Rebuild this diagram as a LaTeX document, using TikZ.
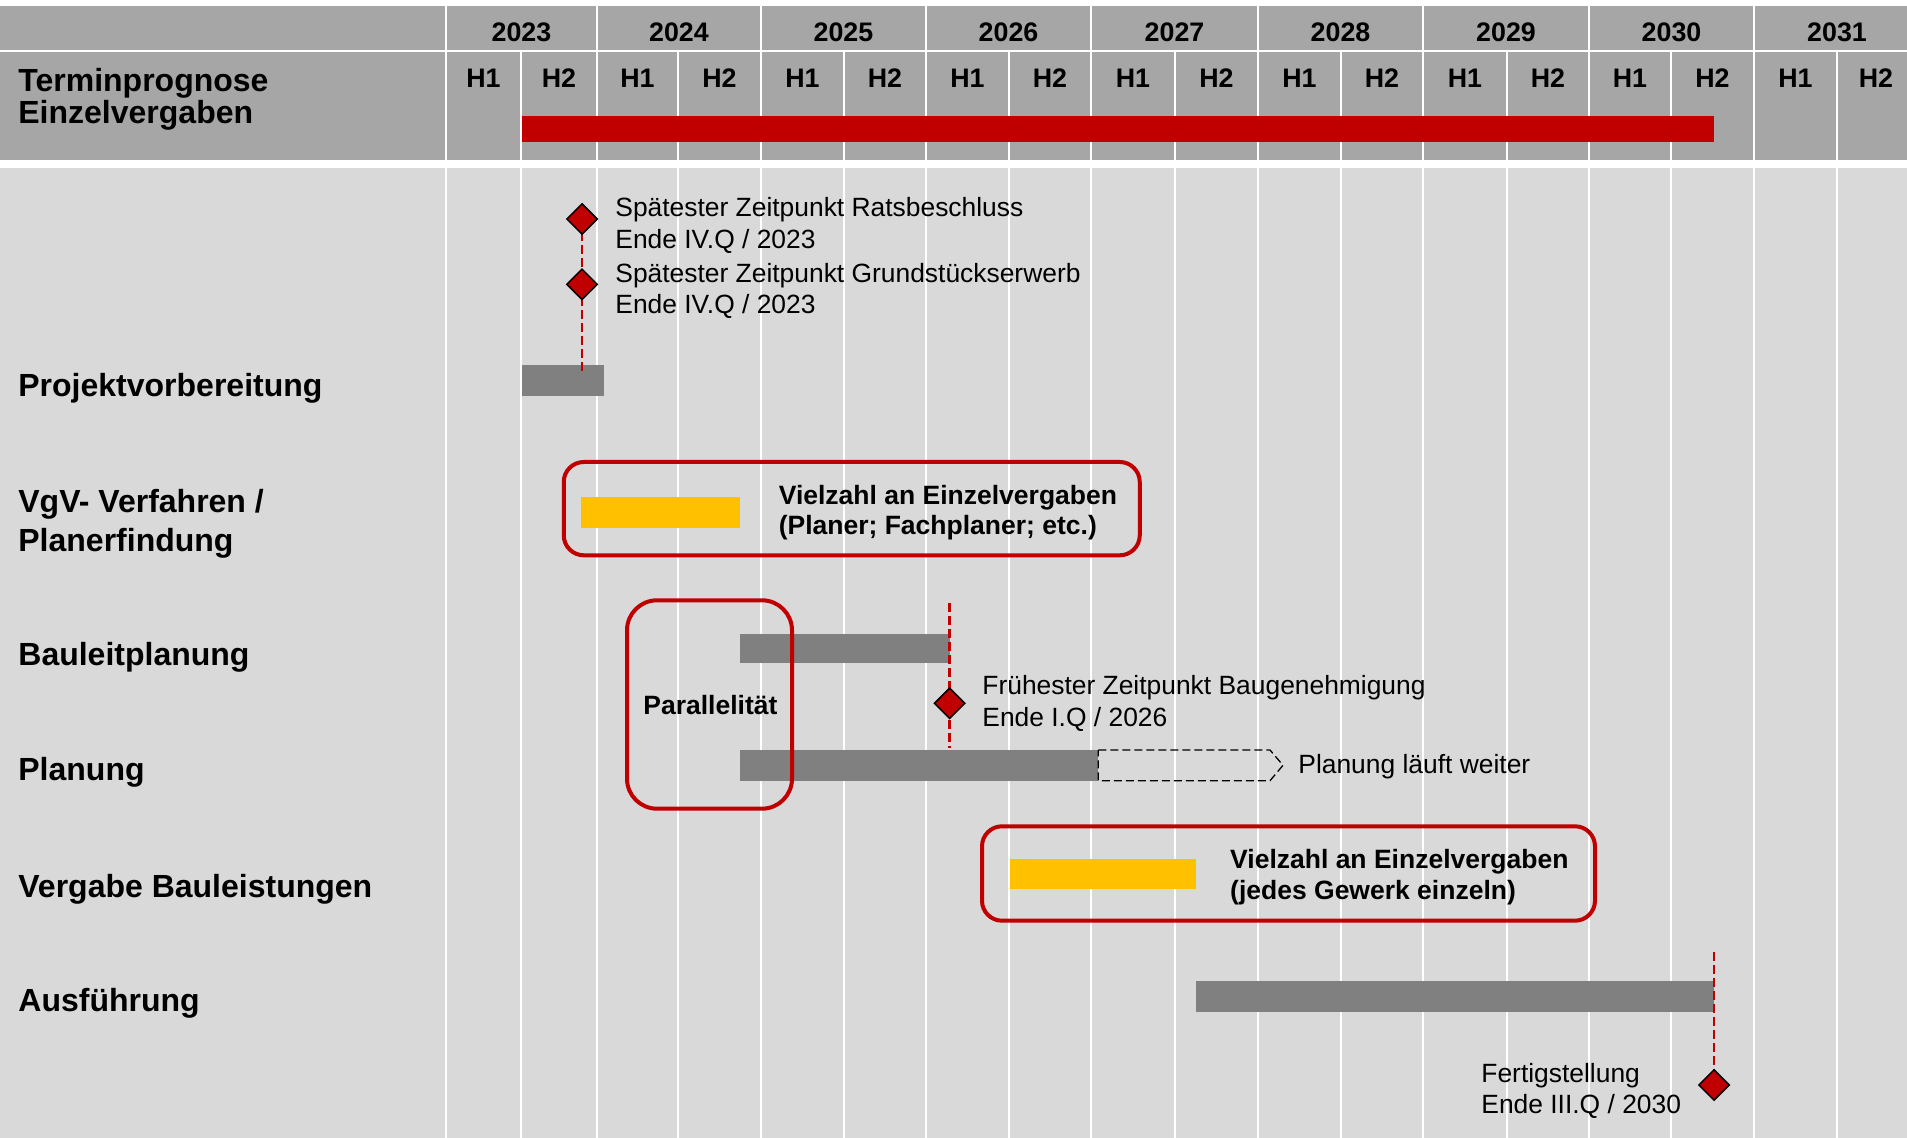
\documentclass[tikz,border=0pt]{standalone}
\usepackage{fontspec}
\setmainfont{Liberation Sans}
\usetikzlibrary{shapes.geometric}
\definecolor{hdrgray}{HTML}{A6A6A6}
\definecolor{bodygray}{HTML}{D9D9D9}
\definecolor{bargray}{HTML}{808080}
\definecolor{darkred}{HTML}{C00000}
\definecolor{amber}{HTML}{FFC000}
\begin{document}
\begin{tikzpicture}[x=0.5pt,y=-0.5pt,
  gridline/.style={white,line width=1.4pt},
  lbl/.style={inner sep=0pt,anchor=base west,font=\fontsize{16}{19}\selectfont\bfseries},
  hdr/.style={inner sep=0pt,anchor=base,font=\fontsize{13.4}{16}\selectfont\bfseries},
  note/.style={inner sep=0pt,anchor=base west,font=\fontsize{13.2}{16}\selectfont},
  boxtxt/.style={inner sep=0pt,anchor=base west,font=\fontsize{13.25}{16}\selectfont\bfseries},
  milestone/.style={diamond,draw=black,fill=darkred,line width=0.75pt,minimum width=15.5pt,minimum height=15.5pt,inner sep=0pt},
  msline/.style={darkred,line width=1.2pt,dash pattern=on 4.5pt off 2pt},
  extdash/.style={black,line width=0.65pt,dash pattern=on 4pt off 2pt},
  redbox/.style={draw=darkred,line width=2pt,inner sep=0pt},
  gbar/.style={fill=bargray},
  ybar/.style={fill=amber}]
\useasboundingbox (0,0) rectangle (1907,1138);
% background and grid
\fill[white] (0,0) rectangle (1907,1138);
\fill[hdrgray] (0,6) rectangle (1907,50);
\fill[hdrgray] (0,52) rectangle (1907,160);
\fill[bodygray] (0,168) rectangle (1907,1138);
\foreach \x in {446,597,761,926,1091,1258,1423,1589,1754}
  \draw[gridline] (\x,6) -- (\x,50);
\foreach \x in {446,521,597,678,761,844,926,1009,1091,1175,1258,1341,1423,1507,1589,1671,1754,1837}{
  \draw[gridline] (\x,52) -- (\x,160);
  \draw[gridline] (\x,168) -- (\x,1138);
}
% header texts
\node[lbl] (tp1) at (18,92) {Terminprognose};
\node[lbl] (tp2) at (18,124) {Einzelvergaben};
\foreach \cx/\yr in {521.5/2023,679/2024,843.5/2025,1008.5/2026,1174.5/2027,1340.5/2028,1506/2029,1671.5/2030,1837/2031}
  \node[hdr] (y\yr) at (\cx,41.5) {\yr};
\foreach \cx/\h [count=\i] in {483.5/H1,559/H2,637.5/H1,719.5/H2,802.5/H1,885/H2,967.5/H1,1050/H2,1133/H1,1216.5/H2,1299.5/H1,1382/H2,1465/H1,1548/H2,1630/H1,1712.5/H2,1795.5/H1,1876/H2}
  \node[hdr] (h\i) at (\cx,88) {\h};
\fill[darkred] (522,116) rectangle (1714,142);
% row labels
\node[lbl] (r1) at (18,397) {Projektvorbereitung};
\node[lbl] (r2a) at (18,513) {VgV- Verfahren /};
\node[lbl] (r2b) at (18,552) {Planerfindung};
\node[lbl] (r3) at (18,666) {Bauleitplanung};
\node[lbl] (r4) at (18,781) {Planung};
\node[lbl] (r5) at (18,897) {Vergabe Bauleistungen};
\node[lbl] (r6) at (18,1011) {Ausführung};
% bars
\fill[gbar] (522,365) rectangle (604,396);
\fill[ybar] (581,497.3) rectangle (740,527.7);
\fill[gbar] (740,634) rectangle (949.6,663.3);
\fill[gbar] (740,750) rectangle (1098.3,780.7);
\draw[extdash] (1098.3,750) -- (1270,750) -- (1283,765.3) -- (1270,780.7) -- (1098.3,780.7) -- cycle;
\fill[ybar] (1010,859) rectangle (1195.8,888.7);
\fill[gbar] (1195.5,981) rectangle (1714,1011.7);
% boxes
\node[redbox,rounded corners=10pt,minimum width=288pt,minimum height=46.65pt] (vgvbox) at (851.75,508.65) {};
\node[redbox,rounded corners=15pt,minimum width=82.5pt,minimum height=104.2pt] (parbox) at (709.5,704.5) {};
\node[redbox,rounded corners=10pt,minimum width=306.5pt,minimum height=47.2pt] (vgbbox) at (1288.5,873.5) {};
% milestone connectors
\coordinate (m1) at (582,219);
\coordinate (m2) at (582,284.3);
\coordinate (m1end) at (582,372);
\coordinate (m3) at (949.6,703.3);
\coordinate (m3top) at (949.6,603);
\coordinate (m3end) at (949.6,748);
\coordinate (m4) at (1714,1085);
\coordinate (m4top) at (1714,951.7);
\draw[msline] (m1) -- (m1end);
\draw[msline] (m3top) -- (m3end);
\draw[msline] (m4top) -- (m4);
\node[milestone] (ms1) at (m1) {};
\node[milestone] (ms2) at (m2) {};
\node[milestone] (ms3) at (m3) {};
\node[milestone] (ms4) at (m4) {};
% texts
\node[note] (t1a) at (615,216.7) {Spätester Zeitpunkt Ratsbeschluss};
\node[note] (t1b) at (615,248.3) {Ende IV.Q / 2023};
\node[note] (t2a) at (615,282.3) {Spätester Zeitpunkt Grundstückserwerb};
\node[note] (t2b) at (615,314) {Ende IV.Q / 2023};
\node[boxtxt] (v1a) at (778.4,505) {Vielzahl an Einzelvergaben};
\node[boxtxt] (v1b) at (778.4,535) {(Planer; Fachplaner; etc.)};
\node[boxtxt,anchor=base] (par) at (710.4,715) {Parallelität};
\node[note] (t3a) at (982,694.3) {Frühester Zeitpunkt Baugenehmigung};
\node[note] (t3b) at (982,726.7) {Ende I.Q / 2026};
\node[note] (t4) at (1298,773.3) {Planung läuft weiter};
\node[boxtxt] (v2a) at (1229.8,868.3) {Vielzahl an Einzelvergaben};
\node[boxtxt] (v2b) at (1229.8,899) {(jedes Gewerk einzeln)};
\node[note] (t5a) at (1481,1082) {Fertigstellung};
\node[note] (t5b) at (1481,1113) {Ende III.Q / 2030};
\end{tikzpicture}
\end{document}
